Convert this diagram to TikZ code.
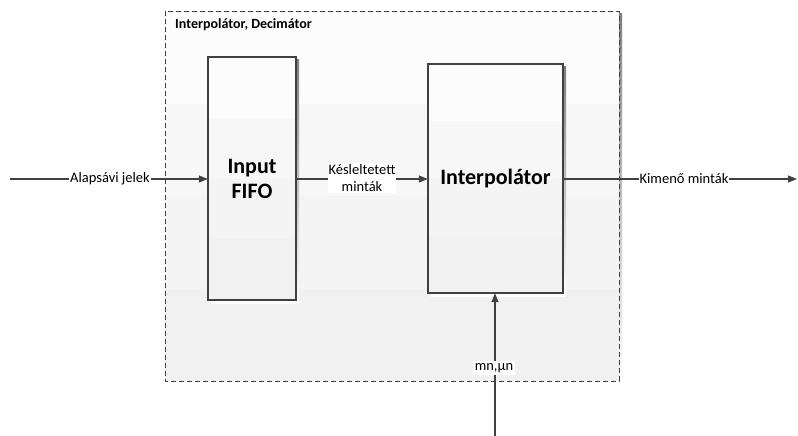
\documentclass[tikz,border=0pt]{standalone}
\usepackage{fontspec}
\setmainfont{Carlito}
\usetikzlibrary{arrows.meta}
\definecolor{edge}{HTML}{404040}
\definecolor{bandA}{HTML}{FCFCFC}
\definecolor{bandB}{HTML}{F7F7F7}
\definecolor{bandC}{HTML}{F4F4F4}
\definecolor{bandD}{HTML}{F1F1F1}
\definecolor{shade}{HTML}{DDDDDD}
\tikzset{
  x=1pt, y=-1pt,
  flow/.style={draw=edge, line width=1.1pt, -{Triangle[length=9pt,width=7pt]}},
  tag/.style={fill=white, inner sep=1pt, font=\fontsize{14.5}{17}\selectfont, text=black},
  blocklabel/.style={font=\bfseries\fontsize{22}{25}\selectfont, align=center},
}
% four horizontal bands, lightest on top
\newcommand{\bandfill}[4]{%
  \pgfmathsetmacro{\bh}{(#4-#2)/4}%
  \fill[bandA] (#1,#2) rectangle (#3,#2+\bh);
  \fill[bandB] (#1,#2+\bh) rectangle (#3,#2+2*\bh);
  \fill[bandC] (#1,#2+2*\bh) rectangle (#3,#2+3*\bh);
  \fill[bandD] (#1,#2+3*\bh) rectangle (#3,#4);
}
\begin{document}
\begin{tikzpicture}
\useasboundingbox (0,0) rectangle (798,436);
\fill[white] (0,0) rectangle (798,436);

% outer group: Interpolátor, Decimátor
\fill[shade] (168,14) rectangle (622,384);
\bandfill{165}{11}{619}{381}
\draw[edge, line width=0.9pt, dash pattern=on 5pt off 3pt] (165,11) rectangle (619,381);
\node[anchor=west, inner sep=0pt, font=\bfseries\fontsize{14}{16}\selectfont] (grp) at (175,25) {Interpolátor, Decimátor};

% Input FIFO block
\fill[shade] (211,60) rectangle (299,303);
\bandfill{208}{57}{296}{300}
\draw[edge, line width=1.1pt] (208,57) rectangle (296,300);
\node[blocklabel, minimum width=88pt, minimum height=243pt] (fifo) at (252,178.5) {Input\\FIFO};

% Interpolátor block
\fill[shade] (431,67) rectangle (566,296);
\bandfill{428}{64}{563}{293}
\draw[edge, line width=1.1pt] (428,64) rectangle (563,293);
\node[blocklabel, minimum width=135pt, minimum height=229pt] (interp) at (495.5,178.5) {Interpolátor};

% free ends of the signal lines
\coordinate (src) at (10,179);
\coordinate (dst) at (797,179);
\coordinate (ctl) at (495,436);

% connectors
\draw[flow] (src) -- (fifo.west |- src);
\draw[flow] (fifo.east |- src) -- (interp.west |- src);
\draw[flow] (interp.east |- src) -- (dst);
\draw[flow] (ctl) -- (interp.south -| ctl);

% connector labels
\node[tag] (l1) at (110,179) {Alapsávi jelek};
\node[tag, align=center, font=\fontsize{14.5}{17}\selectfont] (l2) at (362,178) {Késleltetett\\minták};
\node[tag] (l3) at (684,179) {Kimenő minták};
\node[tag, inner sep=2pt] (l4) at (494,368) {mn,µn};
\end{tikzpicture}
\end{document}
